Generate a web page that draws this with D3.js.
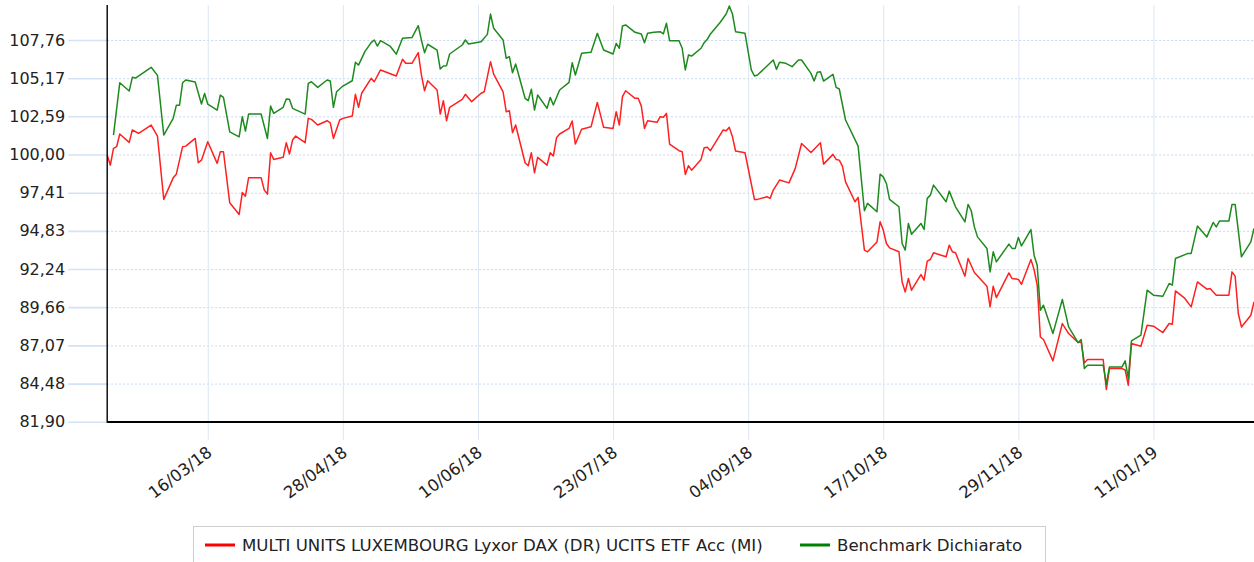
<!DOCTYPE html>
<html><head><meta charset="utf-8">
<script src="https://cdnjs.cloudflare.com/ajax/libs/d3/7.8.5/d3.min.js"></script>
<style>
body{margin:0;background:#fff}
svg{display:block}
text{font-family:"DejaVu Sans",Verdana,sans-serif}
</style></head><body>
<svg id="c" width="1254" height="562"></svg>
<script>
const fundDates = [
"2018-02-12","2018-02-13","2018-02-14","2018-02-15","2018-02-16","2018-02-19","2018-02-20","2018-02-22","2018-02-26","2018-02-28",
"2018-03-02","2018-03-05","2018-03-06","2018-03-08","2018-03-09","2018-03-12","2018-03-13","2018-03-14","2018-03-16","2018-03-19",
"2018-03-20","2018-03-21","2018-03-23","2018-03-26","2018-03-27","2018-03-28","2018-03-29","2018-04-02","2018-04-03","2018-04-04",
"2018-04-05","2018-04-06","2018-04-09","2018-04-10","2018-04-11","2018-04-12","2018-04-13","2018-04-16","2018-04-17","2018-04-18",
"2018-04-20","2018-04-23","2018-04-24","2018-04-25","2018-04-27","2018-04-28","2018-05-01","2018-05-02","2018-05-03","2018-05-04",
"2018-05-07","2018-05-08","2018-05-10","2018-05-15","2018-05-17","2018-05-18","2018-05-20","2018-05-22","2018-05-23","2018-05-24",
"2018-05-25","2018-05-28","2018-05-29","2018-05-30","2018-05-31","2018-06-01","2018-06-05","2018-06-06","2018-06-08","2018-06-11",
"2018-06-12","2018-06-14","2018-06-15","2018-06-18","2018-06-19","2018-06-20","2018-06-21","2018-06-22","2018-06-25","2018-06-26",
"2018-06-27","2018-06-28","2018-06-29","2018-07-02","2018-07-03","2018-07-04","2018-07-05","2018-07-06","2018-07-09","2018-07-10",
"2018-07-11","2018-07-13","2018-07-16","2018-07-18","2018-07-20","2018-07-23","2018-07-24","2018-07-25","2018-07-26","2018-07-27",
"2018-07-30","2018-07-31","2018-08-01","2018-08-02","2018-08-03","2018-08-06","2018-08-07","2018-08-08","2018-08-09","2018-08-10",
"2018-08-13","2018-08-14","2018-08-15","2018-08-16","2018-08-17","2018-08-20","2018-08-21","2018-08-22","2018-08-23","2018-08-27",
"2018-08-28","2018-08-29","2018-08-30","2018-08-31","2018-09-03","2018-09-06","2018-09-07","2018-09-10","2018-09-11","2018-09-12",
"2018-09-14","2018-09-17","2018-09-19","2018-09-21","2018-09-24","2018-09-27","2018-09-28","2018-10-01","2018-10-02","2018-10-03",
"2018-10-04","2018-10-05","2018-10-08","2018-10-09","2018-10-11","2018-10-12","2018-10-15","2018-10-16","2018-10-17","2018-10-18",
"2018-10-19","2018-10-22","2018-10-23","2018-10-24","2018-10-25","2018-10-26","2018-10-29","2018-10-30","2018-10-31","2018-11-01",
"2018-11-02","2018-11-06","2018-11-07","2018-11-08","2018-11-09","2018-11-12","2018-11-13","2018-11-15","2018-11-19","2018-11-20",
"2018-11-21","2018-11-22","2018-11-26","2018-11-27","2018-11-29","2018-11-30","2018-12-03","2018-12-04","2018-12-05","2018-12-06",
"2018-12-07","2018-12-10","2018-12-13","2018-12-15","2018-12-18","2018-12-19","2018-12-20","2018-12-21","2018-12-26","2018-12-27",
"2018-12-28","2019-01-01","2019-01-02","2019-01-03","2019-01-04","2019-01-07","2019-01-09","2019-01-11","2019-01-14","2019-01-16",
"2019-01-17","2019-01-18","2019-01-21","2019-01-23","2019-01-25","2019-01-28","2019-01-29","2019-01-31","2019-02-04","2019-02-05",
"2019-02-06","2019-02-07","2019-02-08","2019-02-11","2019-02-12"];
const fundValues = [
99.96,99.28,100.42,100.53,101.39,100.82,101.66,101.43,102.00,101.25,
96.96,98.42,98.67,100.53,100.57,101.09,99.44,99.62,100.87,99.40,
100.19,100.19,96.73,95.94,97.43,97.18,98.42,98.42,97.59,97.32,
100.12,99.67,99.81,100.80,100.03,100.98,101.25,100.80,102.45,102.38,
102.00,102.29,102.15,101.09,102.34,102.45,102.61,104.08,103.20,104.15,
105.16,104.93,105.73,105.32,106.45,106.18,106.18,106.90,105.39,104.32,
105.00,104.37,102.74,103.65,102.29,103.20,103.74,104.08,103.58,104.15,
104.25,106.29,105.45,104.25,102.90,102.97,101.48,102.00,99.44,99.24,
100.12,98.76,99.81,99.28,100.12,99.90,101.13,101.39,101.77,102.27,
100.71,101.71,101.88,103.53,101.84,101.77,102.90,102.00,103.92,104.32,
103.81,103.81,103.28,101.77,102.29,102.18,102.56,102.52,102.79,100.71,
100.26,100.19,98.65,99.24,98.94,99.67,100.46,100.49,100.26,101.66,
101.61,101.84,101.20,100.24,100.12,96.96,96.96,97.14,97.03,97.59,
98.27,98.08,99.06,100.75,100.14,100.80,99.35,100.01,99.67,99.62,
99.22,98.15,96.80,97.10,93.52,93.41,94.08,95.44,94.88,93.97,
93.68,93.41,91.37,90.69,91.60,90.81,91.87,91.49,92.78,92.89,
93.34,93.07,93.86,93.41,93.34,91.76,92.96,92.01,91.08,89.68,
91.08,90.31,91.98,91.60,91.54,91.21,92.89,92.21,91.15,87.64,
87.47,86.02,88.55,87.87,87.26,87.30,85.88,86.11,86.11,84.08,
85.50,85.50,85.40,84.37,87.20,87.01,88.44,88.37,87.94,88.55,
88.50,90.76,90.25,89.68,91.37,90.88,90.93,90.47,90.47,92.05,
91.76,89.23,88.32,89.11,90.02];

const benchDates = [
"2018-02-14","2018-02-16","2018-02-19","2018-02-20","2018-02-21","2018-02-26","2018-02-28","2018-03-02","2018-03-05","2018-03-06",
"2018-03-07","2018-03-08","2018-03-09","2018-03-12","2018-03-14","2018-03-15","2018-03-16","2018-03-19","2018-03-20","2018-03-21",
"2018-03-23","2018-03-26","2018-03-27","2018-03-28","2018-03-29","2018-04-02","2018-04-04","2018-04-05","2018-04-06","2018-04-09",
"2018-04-10","2018-04-11","2018-04-12","2018-04-16","2018-04-17","2018-04-18","2018-04-20","2018-04-23","2018-04-24","2018-04-25",
"2018-04-26","2018-04-28","2018-05-01","2018-05-02","2018-05-03","2018-05-05","2018-05-07","2018-05-08","2018-05-09","2018-05-10",
"2018-05-13","2018-05-14","2018-05-15","2018-05-17","2018-05-20","2018-05-22","2018-05-23","2018-05-24","2018-05-25","2018-05-28",
"2018-05-29","2018-05-30","2018-05-31","2018-06-01","2018-06-05","2018-06-06","2018-06-07","2018-06-11","2018-06-13","2018-06-14",
"2018-06-15","2018-06-18","2018-06-19","2018-06-20","2018-06-21","2018-06-22","2018-06-25","2018-06-26","2018-06-27","2018-06-28",
"2018-06-29","2018-07-02","2018-07-03","2018-07-04","2018-07-06","2018-07-09","2018-07-10","2018-07-11","2018-07-13","2018-07-16",
"2018-07-18","2018-07-20","2018-07-23","2018-07-24","2018-07-25","2018-07-26","2018-07-27","2018-07-30","2018-08-01","2018-08-02",
"2018-08-03","2018-08-05","2018-08-07","2018-08-08","2018-08-09","2018-08-10","2018-08-13","2018-08-14","2018-08-15","2018-08-16",
"2018-08-17","2018-08-20","2018-08-21","2018-08-22","2018-08-23","2018-08-26","2018-08-28","2018-08-29","2018-08-30","2018-08-31",
"2018-09-03","2018-09-05","2018-09-06","2018-09-07","2018-09-12","2018-09-13","2018-09-14","2018-09-16","2018-09-18","2018-09-20",
"2018-09-21","2018-09-24","2018-09-25","2018-09-26","2018-09-27","2018-09-28","2018-10-01","2018-10-02","2018-10-03","2018-10-05",
"2018-10-09","2018-10-11","2018-10-12","2018-10-15","2018-10-16","2018-10-17","2018-10-18","2018-10-19","2018-10-22","2018-10-23",
"2018-10-24","2018-10-25","2018-10-26","2018-10-29","2018-10-30","2018-10-31","2018-11-01","2018-11-02","2018-11-06","2018-11-07",
"2018-11-09","2018-11-12","2018-11-13","2018-11-14","2018-11-15","2018-11-16","2018-11-19","2018-11-20","2018-11-21","2018-11-22",
"2018-11-26","2018-11-27","2018-11-28","2018-11-29","2018-11-30","2018-12-03","2018-12-04","2018-12-05","2018-12-06","2018-12-07",
"2018-12-10","2018-12-13","2018-12-15","2018-12-18","2018-12-19","2018-12-20","2018-12-21","2018-12-26","2018-12-27","2018-12-28",
"2019-01-01","2019-01-02","2019-01-03","2019-01-04","2019-01-07","2019-01-09","2019-01-11","2019-01-14","2019-01-16","2019-01-17",
"2019-01-18","2019-01-22","2019-01-23","2019-01-25","2019-01-28","2019-01-30","2019-01-31","2019-02-01","2019-02-04","2019-02-05",
"2019-02-06","2019-02-08","2019-02-11","2019-02-12"];
const benchValues = [
101.32,104.86,104.30,105.23,105.18,105.91,105.36,101.32,102.45,103.33,
103.33,104.86,105.05,104.91,103.42,104.14,103.42,103.01,104.03,103.87,
101.54,101.20,102.56,101.59,102.74,102.74,101.09,103.28,102.79,103.20,
103.76,103.74,103.13,102.74,104.82,104.93,104.55,105.05,104.98,103.20,
104.25,104.64,105.00,106.25,106.06,106.97,107.58,107.76,107.35,107.71,
107.35,107.08,106.80,107.88,107.92,108.73,107.76,106.90,107.47,107.08,
105.79,106.00,106.02,106.81,107.42,107.76,107.49,107.64,108.14,109.52,
108.55,107.76,106.52,106.63,105.54,106.13,103.81,103.65,104.42,103.01,
104.03,103.13,103.87,103.35,104.37,104.89,106.22,105.39,106.86,106.93,
108.21,107.08,106.81,107.53,107.20,108.71,108.78,108.28,108.17,107.58,
108.21,108.28,108.32,108.17,108.89,107.71,107.71,107.20,105.73,106.74,
106.67,107.20,107.58,107.81,108.17,108.93,109.52,110.06,109.52,108.32,
108.21,105.73,105.32,105.39,106.40,105.77,106.25,106.18,105.95,106.40,
106.40,105.50,104.98,105.57,105.61,104.98,105.43,104.55,104.44,102.34,
100.57,96.19,96.69,96.12,98.67,98.49,98.04,96.96,96.46,93.97,
93.52,95.33,94.60,95.33,94.92,97.03,97.25,97.93,96.80,97.52,
96.46,95.44,96.62,96.19,95.10,94.42,93.64,92.05,93.41,92.73,
93.93,93.64,93.64,94.38,93.81,94.92,93.18,92.50,89.45,89.79,
87.87,90.18,88.32,87.26,87.47,85.50,85.72,85.72,84.44,85.61,
85.61,86.02,84.82,87.37,87.76,90.81,90.47,90.40,91.26,91.15,
92.96,93.30,93.30,95.15,94.42,95.40,95.10,95.49,95.49,96.62,
96.62,93.07,94.08,94.99];

const yTickValues = [81.90, 84.48, 87.07, 89.66, 92.24, 94.83, 97.41, 100.00, 102.59, 105.17, 107.76];
const xTickDates = ["2018-03-16","2018-04-28","2018-06-10","2018-07-23","2018-09-04","2018-10-17","2018-11-29","2019-01-11"];
const seriesNames = ["MULTI UNITS LUXEMBOURG Lyxor DAX (DR) UCITS ETF Acc (MI)", "Benchmark Dichiarato"];
const seriesColors = ["#ff2020", "#1e8a1e"];

const parse = d3.utcParse("%Y-%m-%d");
const L = 107.2, R = 1254, T = 5, B = 421.7;
const svg = d3.select("#c");
const x = d3.scaleUtc().domain([parse("2018-02-12"), parse("2019-02-12")]).range([L, R]);
const y = d3.scaleLinear().domain([81.90, 110.13]).range([B, T]);
const yFmt = v => v.toFixed(2).replace(".", ",");

// horizontal dotted grid
const gGridY = svg.append("g").attr("transform", `translate(${L},0)`)
  .call(d3.axisLeft(y).tickValues(yTickValues).tickSize(-(R - L)).tickFormat(""));
gGridY.select(".domain").remove();
gGridY.selectAll(".tick line").attr("stroke", "#c6d8ef").attr("stroke-dasharray", "2,2");

// vertical grid
const gGridX = svg.append("g").attr("transform", `translate(0,${B})`)
  .call(d3.axisBottom(x).tickValues(xTickDates.map(parse)).tickSize(-(B - T)).tickFormat(""));
gGridX.select(".domain").remove();
gGridX.selectAll(".tick line").attr("stroke", "#dbe6f4");

// y axis ticks + labels
const gY = svg.append("g").attr("transform", `translate(${L},0)`)
  .call(d3.axisLeft(y).tickValues(yTickValues).tickSize(39).tickPadding(3).tickFormat(yFmt));
gY.select(".domain").remove();
gY.selectAll(".tick line").attr("stroke", "#d3e2f4").attr("stroke-width", 1.6);
gY.selectAll(".tick text").attr("font-size", 16).attr("fill", "#222")
  .attr("font-family", '"DejaVu Sans",Verdana,sans-serif');

// x axis ticks + labels
const gX = svg.append("g").attr("transform", `translate(0,${B})`)
  .call(d3.axisBottom(x).tickValues(xTickDates.map(parse)).tickSize(18).tickFormat(d3.utcFormat("%d/%m/%y")));
gX.select(".domain").remove();
gX.selectAll(".tick line").attr("stroke", "#dbe6f4");
gX.selectAll(".tick text").attr("font-size", 16.5).attr("fill", "#222")
  .attr("font-family", '"DejaVu Sans",Verdana,sans-serif')
  .attr("x", 0).attr("y", 0).attr("dy", 0)
  .attr("text-anchor", "end")
  .attr("transform", "translate(5,33) rotate(-37)");

// series lines
svg.append("clipPath").attr("id", "clip").append("rect")
  .attr("x", L).attr("y", 0).attr("width", R - L).attr("height", B);
const line = d3.line().x(d => x(d.date)).y(d => y(d.v));
const series = [
  fundDates.map((d, i) => ({date: parse(d), v: fundValues[i]})),
  benchDates.map((d, i) => ({date: parse(d), v: benchValues[i]}))
];
series.forEach((s, i) => {
  svg.append("path").datum(s).attr("clip-path", "url(#clip)")
    .attr("fill", "none").attr("stroke", seriesColors[i]).attr("stroke-width", 1.5)
    .attr("stroke-linejoin", "round").attr("d", line);
});

// axis lines
svg.append("line").attr("x1", L).attr("x2", L).attr("y1", T).attr("y2", B + 1)
  .attr("stroke", "#000").attr("stroke-width", 1.4);
svg.append("line").attr("x1", L).attr("x2", R).attr("y1", B + 0.3).attr("y2", B + 0.3)
  .attr("stroke", "#000").attr("stroke-width", 2);

// legend
const lg = svg.append("g");
lg.append("rect").attr("x", 193.5).attr("y", 526.5).attr("width", 852).attr("height", 45)
  .attr("fill", "#fff").attr("stroke", "#cfcfcf");
const legendX = [205, 800];
seriesNames.forEach((n, i) => {
  lg.append("line").attr("x1", legendX[i]).attr("x2", legendX[i] + 30).attr("y1", 545).attr("y2", 545)
    .attr("stroke", i === 0 ? "#ff0000" : "#008000").attr("stroke-width", 3);
  lg.append("text").attr("x", legendX[i] + 37).attr("y", 551).attr("font-size", 16.6).attr("fill", "#222")
    .text(n);
});
</script>
</body></html>
